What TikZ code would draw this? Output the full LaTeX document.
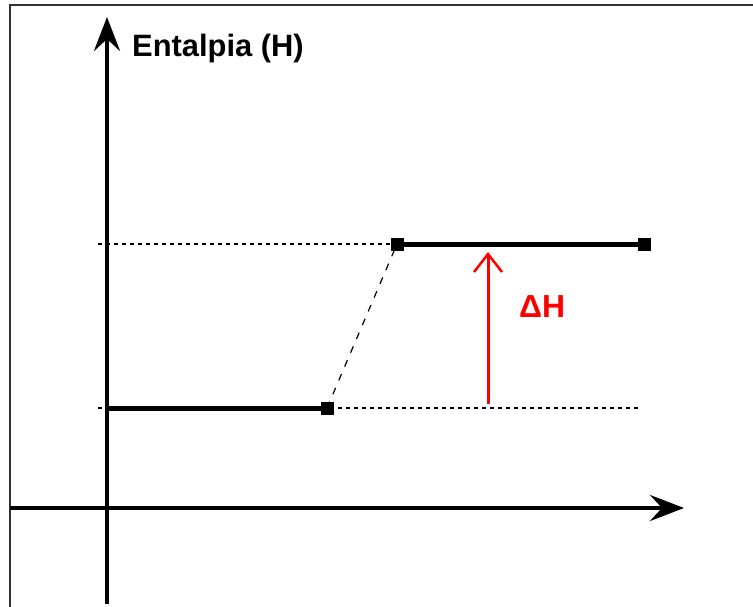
\documentclass[tikz,border=0pt]{standalone}
\usepackage{fontspec}
\setmainfont{Liberation Sans}
\usetikzlibrary{arrows.meta}
\begin{document}
\begin{tikzpicture}[x=1bp,y=-1bp,
  sq/.style={fill=black,draw=none,minimum size=13bp,inner sep=0pt},
  levelline/.style={line width=5bp},
  axisline/.style={line width=4.5bp,-{Stealth[length=34bp,width=26bp,inset=12bp]}},
  guide/.style={line width=1.2bp,dash pattern=on 4bp off 4bp},
  slant/.style={line width=1.2bp,dash pattern=on 7bp off 8bp},
  deltaarrow/.style={red,line width=3bp,-{Straight Barb[length=18bp,width=28bp,line width=2.5bp]}},
  lbl/.style={inner sep=0pt,anchor=base west}
]
\useasboundingbox (0,0) rectangle (753,607);
\fill[white] (0,0) rectangle (753,607);
\draw[line width=1.5bp, black!80] (10,607) -- (10,5) -- (753,5);

\coordinate (yb) at (107,604);
\coordinate (yt) at (107,17);
\coordinate (xl) at (10,508);
\coordinate (xr) at (684,508);
\node[sq] (a) at (327,408) {};
\node[sq] (b) at (397,244) {};
\node[sq] (c) at (644,244) {};
\coordinate (a0) at (107,408);
\coordinate (gl) at (98,408);
\coordinate (gr) at (640,408);
\coordinate (gu) at (98,244);
\coordinate (rb) at (488,404);
\coordinate (rt) at (488,252);

\draw[guide] (gl) -- (gr);
\draw[guide] (gu) -- (b.center);
\draw[slant] (a.center) -- (b.center);
\draw[axisline] (yb) -- (yt);
\draw[axisline] (xl) -- (xr);
\draw[levelline] (a0) -- (a.center);
\draw[levelline] (b.center) -- (c.center);
\node[sq] at (a) {};
\node[sq] at (b) {};
\node[sq] at (c) {};
\draw[deltaarrow] (rb) -- (rt);

\node[lbl,red,font=\bfseries\fontsize{32}{32}\selectfont] (dh) at (519,317) {ΔH};
\node[lbl,font=\bfseries\fontsize{31}{31}\selectfont] (lab) at (132,57) {Entalpia (H)};
\end{tikzpicture}
\end{document}
